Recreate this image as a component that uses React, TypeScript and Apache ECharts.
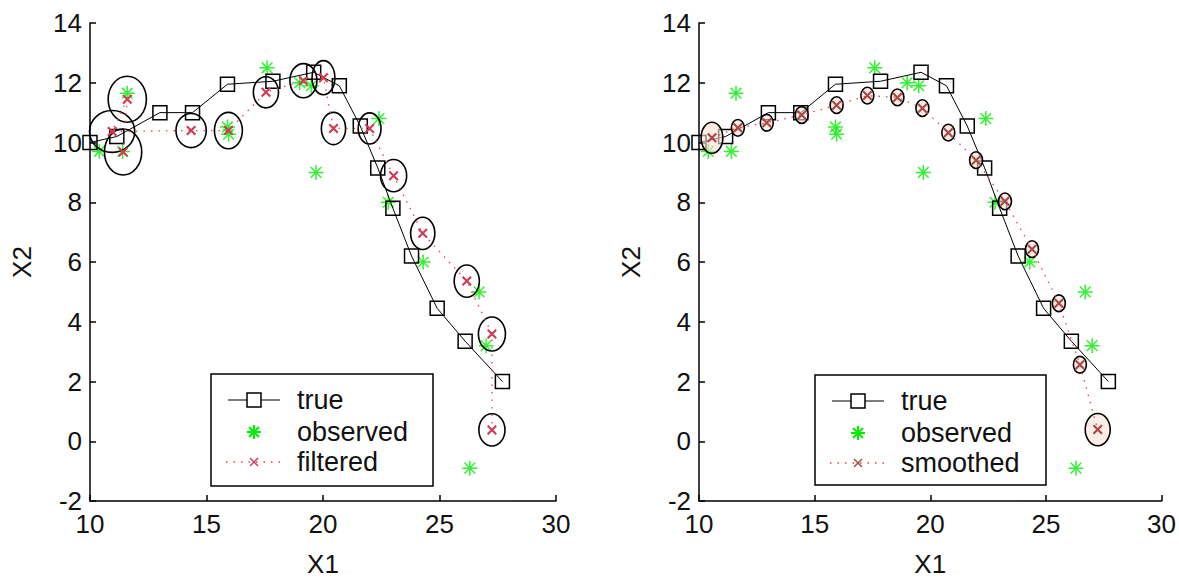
import React, { useEffect, useRef } from "react";
import * as echarts from "echarts";

// ---- data ----
const trueX1 = [10.0, 11.15, 13.0, 14.4, 15.9, 17.85, 19.6, 20.7, 21.6, 22.35, 23.0, 23.8, 24.9, 26.1, 27.7];
const trueX2 = [10.0, 10.2, 11.0, 11.0, 11.95, 12.05, 12.35, 11.9, 10.55, 9.15, 7.8, 6.2, 4.45, 3.35, 2.0];

const obsX1 = [11.4, 11.6, 10.4, 15.95, 15.9, 17.6, 19.0, 19.5, 19.7, 22.4, 22.8, 24.3, 26.7, 27.0, 26.3];
const obsX2 = [9.7, 11.65, 9.7, 10.28, 10.52, 12.5, 12.0, 11.9, 9.0, 10.8, 8.0, 6.0, 5.0, 3.2, -0.9];

const filtX1 = [11.42, 11.6, 10.95, 14.34, 15.94, 17.55, 19.16, 20.02, 20.45, 22.0, 23.03, 24.28, 26.17, 27.25, 27.25];
const filtX2 = [9.68, 11.45, 10.37, 10.4, 10.4, 11.68, 12.07, 12.17, 10.47, 10.47, 8.89, 6.96, 5.36, 3.59, 0.38];
const filtRx = [0.8, 0.82, 0.97, 0.65, 0.6, 0.54, 0.58, 0.49, 0.52, 0.49, 0.56, 0.52, 0.54, 0.58, 0.56];
const filtRy = [0.77, 0.77, 0.7, 0.57, 0.61, 0.52, 0.57, 0.57, 0.54, 0.52, 0.54, 0.54, 0.54, 0.57, 0.54];

const smX1 = [10.56, 11.68, 12.93, 14.44, 15.95, 17.28, 18.58, 19.66, 20.78, 21.98, 23.23, 24.4, 25.56, 26.47, 27.24];
const smX2 = [10.16, 10.49, 10.66, 10.92, 11.25, 11.57, 11.51, 11.15, 10.33, 9.41, 8.03, 6.43, 4.62, 2.56, 0.39];
const smRx = [0.47, 0.28, 0.28, 0.28, 0.28, 0.28, 0.28, 0.28, 0.28, 0.28, 0.28, 0.28, 0.28, 0.28, 0.54];
const smRy = [0.52, 0.28, 0.28, 0.28, 0.28, 0.28, 0.28, 0.28, 0.28, 0.28, 0.28, 0.28, 0.28, 0.28, 0.54];

const xTicks = { min: 10, max: 30, interval: 5 };
const yTicks = { min: -2, max: 14, interval: 2 };
const legendLeft = ["true", "observed", "filtered"];
const legendRight = ["true", "observed", "smoothed"];

const FONT = "'Liberation Sans', Arial, Helvetica, sans-serif";
const STAR =
  "path://M9,0L11,0L11,20L9,20Z M0,9L20,9L20,11L0,11Z M2.2,3.6L3.6,2.2L17.8,16.4L16.4,17.8Z M16.4,2.2L17.8,3.6L3.6,17.8L2.2,16.4Z";
const XMARK = "path://M0,1.5L1.5,0L10,8.5L8.5,10Z M8.5,0L10,1.5L1.5,10L0,8.5Z";

const GREEN = "#00ee00";

function pairs(a: number[], b: number[]) {
  return a.map((v, i) => [v, b[i]]);
}

function ellipseSeries(gi: number, xs: number[], ys: number[], rx: number[], ry: number[], fill: string) {
  return {
    type: "custom",
    xAxisIndex: gi,
    yAxisIndex: gi,
    silent: true,
    z: 4,
    encode: { x: 0, y: 1 },
    data: xs.map((v, i) => [v, ys[i], rx[i], ry[i]]),
    renderItem: (params: any, api: any) => {
      const c = api.coord([api.value(0), api.value(1)]);
      const p = api.coord([api.value(0) + api.value(2), api.value(1) + api.value(3)]);
      return {
        type: "ellipse",
        shape: { cx: c[0], cy: c[1], rx: Math.abs(p[0] - c[0]), ry: Math.abs(p[1] - c[1]) },
        style: { fill, stroke: "#000", lineWidth: 1.6 },
      };
    },
  };
}

function panelSeries(gi: number, estX: number[], estY: number[], rx: number[], ry: number[], name: string, xColor: string, fill: string) {
  return [
    {
      type: "line",
      name: "true",
      xAxisIndex: gi,
      yAxisIndex: gi,
      data: pairs(trueX1, trueX2),
      symbol: "rect",
      symbolSize: 14,
      lineStyle: { color: "#000", width: 1 },
      itemStyle: { color: "rgba(0,0,0,0)", borderColor: "#000", borderWidth: 1.5 },
      z: 3,
    },
    {
      type: "scatter",
      name: "observed",
      xAxisIndex: gi,
      yAxisIndex: gi,
      data: pairs(obsX1, obsX2),
      symbol: STAR,
      symbolSize: 15,
      itemStyle: { color: GREEN },
      z: 2,
    },
    ellipseSeries(gi, estX, estY, rx, ry, fill),
    {
      type: "line",
      name,
      xAxisIndex: gi,
      yAxisIndex: gi,
      data: pairs(estX, estY),
      symbol: XMARK,
      symbolSize: 10,
      lineStyle: { color: "#e04848", width: 1.3, type: [1.5, 6] },
      itemStyle: { color: xColor },
      z: 5,
    },
  ];
}

function line(x1: number, y1: number, x2: number, y2: number, stroke: string, lineWidth: number, lineDash?: number[]) {
  return { type: "line", z: 100, shape: { x1, y1, x2, y2 }, style: { stroke, lineWidth, lineDash } };
}

function legend(x0: number, y0: number, w: number, h: number, labels: string[], xColor: string) {
  const cx = x0 + 43;
  const rows = [y0 + 26, y0 + 58, y0 + 88];
  const els: any[] = [
    { type: "rect", z: 99, shape: { x: x0, y: y0, width: w, height: h }, style: { fill: "#fff", stroke: "#000", lineWidth: 1.5 } },
    line(x0 + 17, rows[0], x0 + 69, rows[0], "#000", 1.2),
    { type: "rect", z: 101, shape: { x: cx - 7, y: rows[0] - 7, width: 14, height: 14 }, style: { fill: "#fff", stroke: "#000", lineWidth: 1.5 } },
  ];
  // star
  const r = 7;
  els.push(line(cx - r, rows[1], cx + r, rows[1], GREEN, 2));
  els.push(line(cx, rows[1] - r, cx, rows[1] + r, GREEN, 2));
  els.push(line(cx - 5, rows[1] - 5, cx + 5, rows[1] + 5, GREEN, 2));
  els.push(line(cx - 5, rows[1] + 5, cx + 5, rows[1] - 5, GREEN, 2));
  // dotted + x
  els.push(line(x0 + 15, rows[2], x0 + 71, rows[2], "#e04848", 1.3, [1.5, 6]));
  els.push(line(cx - 4, rows[2] - 4, cx + 4, rows[2] + 4, xColor, 1.5));
  els.push(line(cx - 4, rows[2] + 4, cx + 4, rows[2] - 4, xColor, 1.5));
  labels.forEach((t, i) => {
    els.push({
      type: "text",
      z: 101,
      x: x0 + 86,
      y: rows[i],
      style: { text: t, fill: "#111", font: `27px ${FONT}`, textVerticalAlign: "middle", verticalAlign: "middle" },
    });
  });
  return els;
}

export default function App() {
  const ref = useRef<HTMLDivElement>(null);
  useEffect(() => {
    document.body.style.margin = "0";
    const chart = echarts.init(ref.current!, null, { renderer: "svg" });
    const axisCommon = {
      type: "value",
      nameLocation: "middle",
      nameTextStyle: { fontSize: 26, color: "#111", fontFamily: FONT },
      axisLine: { show: true, onZero: false, lineStyle: { color: "#000", width: 1.5 } },
      axisTick: { show: true, inside: true, length: 6, lineStyle: { color: "#000", width: 1.5 } },
      axisLabel: { fontSize: 26, color: "#111", fontFamily: FONT },
      splitLine: { show: false },
    };
    const option: any = {
      animation: false,
      backgroundColor: "#fff",
      grid: [
        { left: 90, top: 23, width: 466, height: 488 },
        { left: 699, top: 23, width: 464, height: 488 },
      ],
      xAxis: [0, 1].map((gi) => ({
        ...axisCommon,
        gridIndex: gi,
        ...xTicks,
        name: "X1",
        nameGap: 50,
        axisLabel: { ...axisCommon.axisLabel, margin: 10 },
      })),
      yAxis: [0, 1].map((gi) => ({
        ...axisCommon,
        gridIndex: gi,
        ...yTicks,
        name: "X2",
        nameGap: 55,
        nameRotate: 90,
        axisLabel: { ...axisCommon.axisLabel, margin: 8 },
      })),
      series: [
        ...panelSeries(0, filtX1, filtX2, filtRx, filtRy, "filtered", "#d03a58", "rgba(0,0,0,0)"),
        ...panelSeries(1, smX1, smX2, smRx, smRy, "smoothed", "#a84848", "rgba(250,225,215,0.6)"),
      ],
      graphic: [
        ...legend(211, 374, 222, 112, legendLeft, "#d03a58"),
        ...legend(815, 375, 231, 110, legendRight, "#a84848"),
      ],
    };
    chart.setOption(option);
    return () => chart.dispose();
  }, []);
  return <div ref={ref} style={{ width: 1179, height: 582 }} />;
}
